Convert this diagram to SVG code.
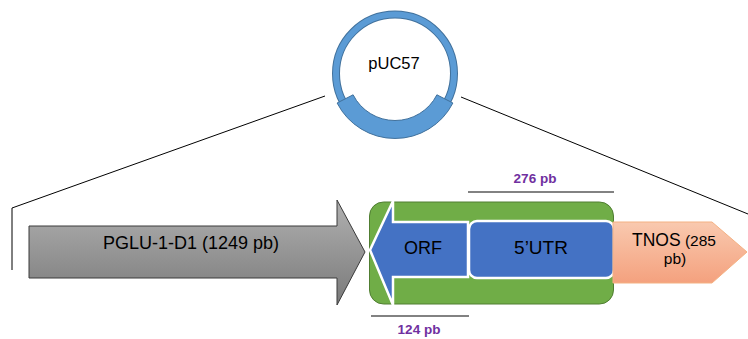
<svg xmlns="http://www.w3.org/2000/svg" width="748" height="339" viewBox="0 0 748 339">
<defs>
<linearGradient id="gGray" x1="0" y1="0" x2="0" y2="1"><stop offset="0" stop-color="#b0b0b0"/><stop offset="1" stop-color="#7a7a7a"/></linearGradient>
<linearGradient id="gPeach" x1="0" y1="0" x2="0" y2="1"><stop offset="0" stop-color="#f9c9af"/><stop offset="1" stop-color="#f4a17e"/></linearGradient>
<style>
.lbl{font-family:"Liberation Sans",Arial,sans-serif;fill:#000}
.dim{font-family:"Liberation Sans",Arial,sans-serif;font-weight:bold;font-size:13.5px;fill:#7030a0}
.thin{stroke:#000;stroke-width:1;fill:none}
.dl{stroke:#595959;stroke-width:1.5}
</style>
</defs>
<g id="connectors">
<polyline class="thin" points="12,270 12,208 325,96"/>
<line class="thin" x1="461" y1="97" x2="748" y2="214"/>
</g>
<g id="plasmid">
<circle cx="395" cy="73.5" r="59" fill="#fff" stroke="#41719c" stroke-width="8"/>
<circle cx="395" cy="73.5" r="59" fill="none" stroke="#5b9bd5" stroke-width="6"/>
<path d="M452.9,103 A65,65 0 0 1 337.1,103 L353.1,94.8 A47,47 0 0 0 436.9,94.8 Z" fill="#5b9bd5" stroke="#41719c" stroke-width="1"/>
<text class="lbl" x="394" y="69" font-size="16.5" text-anchor="middle">pUC57</text>
</g>
<g id="pglu">
<path d="M29,226 L337,226 L337,200 L365,252 L337,305 L337,278 L29,278 Z" fill="url(#gGray)" stroke="#3a3a3a" stroke-width="1"/>
<text class="lbl" x="191" y="249" font-size="18" text-anchor="middle">PGLU-1-D1 (1249 pb)</text>
</g>
<g id="box">
<rect x="369.5" y="202" width="244" height="102" rx="14" fill="#70ad47" stroke="#507e32" stroke-width="1"/>
</g>
<g id="orf">
<path d="M370,250 L393,201 L393,222 L468,222 L468,277 L393,277 L393,305 Z" fill="#4472c4" stroke="#fff" stroke-width="2.5" stroke-linejoin="miter"/>
<text class="lbl" x="423" y="254" font-size="18" text-anchor="middle">ORF</text>
</g>
<g id="utr">
<rect x="469" y="221" width="145" height="57" rx="8" fill="#4472c4" stroke="#fff" stroke-width="2.5"/>
<text class="lbl" x="541" y="254" font-size="19" text-anchor="middle">5’UTR</text>
</g>
<g id="tnos">
<path d="M613,222 L712,222 L747,252 L712,283 L613,283 Z" fill="url(#gPeach)" stroke="#f4b183" stroke-width="1"/>
<text class="lbl" x="674" y="246" text-anchor="middle"><tspan font-size="17.5">TNOS</tspan><tspan font-size="15.5"> (285</tspan></text>
<text class="lbl" x="675" y="264" font-size="15.5" text-anchor="middle">pb)</text>
</g>
<g id="dim276">
<line class="dl" x1="468" y1="192" x2="614" y2="192"/>
<text class="dim" x="535" y="183" text-anchor="middle">276 pb</text>
</g>
<g id="dim124">
<line class="dl" x1="371" y1="316" x2="469" y2="316"/>
<text class="dim" x="419" y="334" text-anchor="middle">124 pb</text>
</g>
</svg>
